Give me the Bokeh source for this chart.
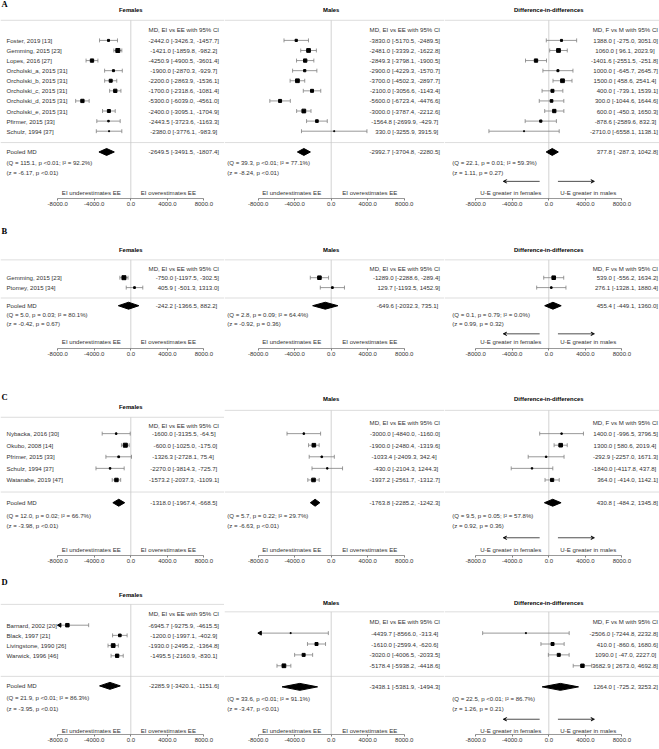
import math
from bokeh.plotting import figure
from bokeh.models import Range1d, FixedTicker, PrintfTickFormatter, ColumnDataSource, Arrow, VeeHead
from bokeh.layouts import column, row
from bokeh.embed import file_html
from bokeh.resources import INLINE
from bokeh.core.properties import value

# ---------------- data ----------------
col_titles = ["Females", "Males", "Difference-in-differences"]
md_headers = ["MD, EI vs EE with 95% CI", "MD, EI vs EE with 95% CI", "MD, F vs M with 95% CI"]
pooled_label = "Pooled MD"
dir_labels = [["EI underestimates EE", "EI overestimates EE"],
              ["EI underestimates EE", "EI overestimates EE"],
              ["U-E greater in females", "U-E greater in males"]]
axis_ticks = [-8000, -4000, 0, 4000, 8000]
panel_letters = ["A", "B", "C", "D"]

A_studies = ["Foster, 2019 [13]", "Gemming, 2015 [23]", "Lopes, 2016 [27]", "Orcholski_a, 2015 [31]",
             "Orcholski_b, 2015 [31]", "Orcholski_c, 2015 [31]", "Orcholski_d, 2015 [31]",
             "Orcholski_e, 2015 [31]", "Pfirmer, 2015 [33]", "Schulz, 1994 [37]"]
A_f_md = [-2442.0, -1421.0, -4250.9, -1900.0, -2200.0, -1700.0, -5300.0, -2400.0, -2443.5, -2380.0]
A_f_lo = [-3426.3, -1859.8, -4900.5, -2870.3, -2863.9, -2318.6, -6039.0, -3095.1, -3723.6, -3776.1]
A_f_hi = [-1457.7, -982.2, -3601.4, -929.7, -1536.1, -1081.4, -4561.0, -1704.9, -1163.3, -983.9]
A_f_wt = [4, 16, 11, 4, 9, 11, 11, 9, 2.3, 1]
A_f_pool = [-2649.5, -3491.5, -1807.4]
A_f_het = "(Q = 115.1, p <0.01; I² = 92.2%)"
A_f_z = "(z = -6.17, p <0.01)"
A_m_md = [-3830.0, -2481.0, -2849.3, -2900.0, -3700.0, -2100.0, -5600.0, -3000.0, -1564.8, 330.0]
A_m_lo = [-5170.5, -3339.2, -3798.1, -4229.3, -4502.3, -3056.6, -6723.4, -3787.4, -2699.9, -3255.9]
A_m_hi = [-2489.5, -1622.8, -1900.5, -1570.7, -2897.7, -1143.4, -4476.6, -2212.6, -429.7, 3915.9]
A_m_wt = [5, 14, 11, 5, 14, 9, 9, 14, 7, 1]
A_m_pool = [-2992.7, -3704.8, -2280.5]
A_m_het = "(Q = 39.3, p <0.01; I² = 77.1%)"
A_m_z = "(z = -8.24, p <0.01)"
A_d_md = [1388.0, 1060.0, -1401.6, 1000.0, 1500.0, 400.0, 300.0, 600.0, -878.6, -2710.0]
A_d_lo = [-275.0, 96.1, -2551.5, -645.7, 458.6, -739.1, -1044.6, -450.3, -2589.6, -6558.1]
A_d_hi = [3051.0, 2023.9, -251.8, 2645.7, 2541.4, 1539.1, 1644.6, 1650.3, 832.3, 1138.1]
A_d_wt = [4, 14, 11, 4, 14, 9, 7, 11, 5, 1]
A_d_pool = [377.8, -287.3, 1042.8]
A_d_het = "(Q = 22.1, p = 0.01; I² = 59.3%)"
A_d_z = "(z = 1.11, p = 0.27)"

B_studies = ["Gemming, 2015 [23]", "Ptomey, 2015 [34]"]
B_f_md = [-750.0, 405.9]
B_f_lo = [-1197.5, -501.3]
B_f_hi = [-302.5, 1313.0]
B_f_wt = [16, 3]
B_f_pool = [-242.2, -1366.5, 882.2]
B_f_het = "(Q = 5.0, p = 0.03; I² = 80.1%)"
B_f_z = "(z = -0.42, p = 0.67)"
B_m_md = [-1289.0, 129.7]
B_m_lo = [-2288.6, -1193.5]
B_m_hi = [-289.4, 1452.9]
B_m_wt = [13, 3]
B_m_pool = [-649.6, -2032.3, 735.1]
B_m_het = "(Q = 2.8, p = 0.09; I² = 64.4%)"
B_m_z = "(z = -0.92, p = 0.36)"
B_d_md = [539.0, 276.1]
B_d_lo = [-556.2, -1328.1]
B_d_hi = [1634.2, 1880.4]
B_d_wt = [13, 2.5]
B_d_pool = [455.4, -449.1, 1360.0]
B_d_het = "(Q = 0.1, p = 0.79; I² = 0.0%)"
B_d_z = "(z = 0.99, p = 0.32)"

C_studies = ["Nybacka, 2016 [30]", "Okubo, 2008 [14]", "Pfrimer, 2015 [33]", "Schulz, 1994 [37]",
             "Watanabe, 2019 [47]"]
C_f_md = [-1600.0, -600.0, -1326.3, -2270.0, -1573.2]
C_f_lo = [-3135.5, -1025.0, -2728.1, -3814.3, -2037.3]
C_f_hi = [-64.5, -175.0, 75.4, -725.7, -1109.1]
C_f_wt = [2.3, 16, 3, 2.3, 12]
C_f_pool = [-1318.0, -1967.4, -668.5]
C_f_het = "(Q = 12.0, p = 0.02; I² = 66.7%)"
C_f_z = "(z = -3.98, p <0.01)"
C_m_md = [-3000.0, -1900.0, -1033.4, -430.0, -1937.2]
C_m_lo = [-4840.0, -2480.4, -2409.3, -2104.3, -2561.7]
C_m_hi = [-1160.0, -1319.6, 342.4, 1244.3, -1312.7]
C_m_wt = [2.3, 13, 2.5, 2, 13]
C_m_pool = [-1763.8, -2285.2, -1242.3]
C_m_het = "(Q = 5.7, p = 0.22; I² = 29.7%)"
C_m_z = "(z = -6.63, p <0.01)"
C_d_md = [1400.0, 1300.0, -292.9, -1840.0, 364.0]
C_d_lo = [-996.5, 580.6, -2257.0, -4117.8, -414.0]
C_d_hi = [3796.5, 2019.4, 1671.3, 437.8, 1142.1]
C_d_wt = [2, 13, 2, 2, 10]
C_d_pool = [430.8, -484.2, 1345.8]
C_d_het = "(Q = 9.5, p = 0.05; I² = 57.8%)"
C_d_z = "(z = 0.92, p = 0.36)"

D_studies = ["Barnard, 2002 [20]", "Black, 1997 [21]", "Livingstone, 1990 [26]", "Warwick, 1996 [46]"]
D_f_md = [-6945.7, -1200.0, -1930.0, -1495.5]
D_f_lo = [-9275.9, -1997.1, -2495.2, -2160.9]
D_f_hi = [-4615.5, -402.9, -1364.8, -830.1]
D_f_wt = [12, 7, 14, 11]
D_f_pool = [-2285.9, -3420.1, -1151.6]
D_f_het = "(Q = 21.9, p <0.01; I² = 86.3%)"
D_f_z = "(z = -3.95, p <0.01)"
D_m_md = [-4439.7, -1610.0, -3020.0, -5178.4]
D_m_lo = [-8566.0, -2599.4, -4006.5, -5938.2]
D_m_hi = [-313.4, -620.6, -2033.5, -4418.6]
D_m_wt = [1, 9, 9, 14]
D_m_pool = [-3438.1, -5381.9, -1494.3]
D_m_het = "(Q = 33.6, p <0.01; I² = 91.1%)"
D_m_z = "(z = -3.47, p <0.01)"
D_d_md = [-2506.0, 410.0, 1090.0, 3682.9]
D_d_lo = [-7244.8, -860.6, -47.0, 2673.0]
D_d_hi = [2232.8, 1680.6, 2227.0, 4692.8]
D_d_wt = [1, 9, 9, 12]
D_d_pool = [1264.0, -725.2, 3253.2]
D_d_het = "(Q = 22.5, p <0.01; I² = 86.7%)"
D_d_z = "(z = 1.26, p = 0.21)"

# ---------------- layout (reference-pixel geometry) ----------------
SX = 1.0           # output px per reference px, horizontal
SY = 0.99          # output px per reference px, vertical
K = 0.00913        # reference px per MD unit
BOT = 13           # fixed output px of the axis strip
FS = 6.1           # text size (px)
TFS = 5.9          # title size
TXT = "#333333"
LINE = "#7f7f7f"
ZERO = "#c8c8c8"
RULE = "#d4d4d4"
FONT = value("Liberation Sans")
ARROW_SIZE = 4.0

COLS = [dict(L=0, R=224, zero=130.3, ci_r=218.5, q_x=6, dl=-10, dr=10),
        dict(L=224, R=444, zero=330.7, ci_r=439.5, q_x=226.7, dl=-10, dr=11),
        dict(L=444, R=659, zero=548.3, ci_r=657.5, q_x=451.7, dl=-7.5, dr=11.5)]
LABEL_X = 6

LAY_A = dict(title=10, hline=20, mdh=29.3, row0=40.3, step=10.19, sep=143.5, pool=153, q=163.7, z=173.3)
LAY_B = dict(title=252.3, hline=262, mdh=271, row0=280, step=10, sep=300.5, pool=308.3, q=317, z=326)
LAY_CF = dict(title=410.7, hline=421, mdh=429.3, row0=437.5, step=11.7, sep=496.5, pool=507.3, q=520, z=530.7)
LAY_CM = dict(title=402.3, hline=414, mdh=426, row0=437.5, step=11.7, sep=496.5, pool=507.3, q=520, z=530.7)
LAY_DF = dict(title=600, hline=610, mdh=619, row0=631, step=10.3, sep=682.7, pool=692.3, q=704, z=715)
LAY_DM = dict(title=608.3, hline=617.5, mdh=627.7, row0=639, step=11, sep=682.7, pool=693.3, q=705, z=715)

PANELS = [
    dict(studies=A_studies, letter_y=3.5, axis=200, dir_y=193.7, arrow_y=182.7,
         cells=[(A_f_md, A_f_lo, A_f_hi, A_f_wt, A_f_pool, A_f_het, A_f_z, LAY_A),
                (A_m_md, A_m_lo, A_m_hi, A_m_wt, A_m_pool, A_m_het, A_m_z, LAY_A),
                (A_d_md, A_d_lo, A_d_hi, A_d_wt, A_d_pool, A_d_het, A_d_z, LAY_A)]),
    dict(studies=B_studies, letter_y=233, axis=351.2, dir_y=344.3, arrow_y=336.7,
         cells=[(B_f_md, B_f_lo, B_f_hi, B_f_wt, B_f_pool, B_f_het, B_f_z, LAY_B),
                (B_m_md, B_m_lo, B_m_hi, B_m_wt, B_m_pool, B_m_het, B_m_z, LAY_B),
                (B_d_md, B_d_lo, B_d_hi, B_d_wt, B_d_pool, B_d_het, B_d_z, LAY_B)]),
    dict(studies=C_studies, letter_y=400, axis=561, dir_y=555, arrow_y=542.7,
         cells=[(C_f_md, C_f_lo, C_f_hi, C_f_wt, C_f_pool, C_f_het, C_f_z, LAY_CF),
                (C_m_md, C_m_lo, C_m_hi, C_m_wt, C_m_pool, C_m_het, C_m_z, LAY_CM),
                (C_d_md, C_d_lo, C_d_hi, C_d_wt, C_d_pool, C_d_het, C_d_z, LAY_CM)]),
    dict(studies=D_studies, letter_y=587, axis=741.7, dir_y=737.3, arrow_y=726,
         cells=[(D_f_md, D_f_lo, D_f_hi, D_f_wt, D_f_pool, D_f_het, D_f_z, LAY_DF),
                (D_m_md, D_m_lo, D_m_hi, D_m_wt, D_m_pool, D_m_het, D_m_z, LAY_DM),
                (D_d_md, D_d_lo, D_d_hi, D_d_wt, D_d_pool, D_d_het, D_d_z, LAY_DM)]),
]


def fmt_ci(md, lo, hi, pool):
    los = [f"{v:.1f}" for v in lo + [pool[1]]]
    his = [f"{v:.1f}" for v in hi + [pool[2]]]
    wl = max(len(s) for s in los)
    wh = max(len(s) for s in his)
    mds = [f"{v:.1f}" for v in md + [pool[0]]]
    return [f"{m} [{a.rjust(wl)}, {b.rjust(wh)}]" for m, a, b in zip(mds, los, his)]


def add_text(p, xs, ys, texts, align="left", color=TXT, size=FS, bold=False, font=FONT):
    src = ColumnDataSource(dict(x=xs, y=ys, t=texts))
    p.text(x="x", y="y", text="t", source=src, text_align=align, text_baseline="middle",
           text_font_size=f"{size:.2f}px", text_color=color, text_font=font,
           text_font_style="bold" if bold else "normal")


def make_cell(pi, ci, panel, top, fh):
    c = COLS[ci]
    md, lo, hi, wt, pool, het, zt, L = panel["cells"][ci]
    X = lambda px: (px - c["zero"]) / K
    fw = round((c["R"] - c["L"]) * SX)
    x0 = X(c["L"])
    x1 = x0 + fw / (SX * K)
    ybot = top + fh / SY
    p = figure(frame_width=fw, frame_height=fh, x_range=Range1d(x0, x1), y_range=Range1d(ybot, top),
               output_backend="svg", toolbar_location=None, min_border=0, min_border_bottom=BOT,
               x_axis_location="below", y_axis_location=None)
    p.xgrid.visible = False
    p.ygrid.visible = False
    p.outline_line_color = None
    p.background_fill_color = "white"
    p.border_fill_color = "white"

    lo_x, hi_x = axis_ticks[0], axis_ticks[-1]
    n = len(md)
    ys = [L["row0"] + i * L["step"] for i in range(n)]

    # rules and zero line
    p.segment(x0=[x0, x0], x1=[x1, x1], y0=[L["hline"], L["sep"]], y1=[L["hline"], L["sep"]],
              line_color=RULE, line_width=0.8)
    p.segment(x0=[0], x1=[0], y0=[L["hline"]], y1=[ybot], line_color=ZERO, line_width=0.8)

    # title, header
    add_text(p, [0], [L["title"]], [col_titles[ci]], align="center", color="black", size=TFS, bold=True)
    add_text(p, [X(c["ci_r"])], [L["mdh"]], [md_headers[ci]], align="right")
    if ci == 0:
        add_text(p, [X(1)], [panel["letter_y"]], [panel_letters[pi]], color="black", size=8.5,
                 bold=True, font=value("Liberation Serif"))
        add_text(p, [X(LABEL_X)] * n, ys, panel["studies"])
        add_text(p, [X(LABEL_X)], [L["pool"]], [pooled_label])

    # CI whiskers (truncated at the axis limits, with an arrowhead)
    clo = [max(v, lo_x) for v in lo]
    chi = [min(v, hi_x) for v in hi]
    p.segment(x0=clo, x1=chi, y0=ys, y1=ys, line_color=LINE, line_width=0.8)
    cap_x, cap_y = [], []
    for v, vc, y in zip(lo + hi, clo + chi, ys + ys):
        if v == vc:
            cap_x.append(v)
            cap_y.append(y)
    p.segment(x0=cap_x, x1=cap_x, y0=[y - 2.0 for y in cap_y], y1=[y + 2.0 for y in cap_y],
              line_color=LINE, line_width=0.8)
    tl = [(vc, y) for v, vc, y in zip(lo, clo, ys) if v != vc]
    if tl:
        p.scatter(x=[t[0] + (ARROW_SIZE / 2) / K for t in tl], y=[t[1] for t in tl], marker="triangle",
                  angle=math.pi / 2, size=ARROW_SIZE, color="black")
    p.scatter(x=md, y=ys, size=[max(1.0, math.sqrt(w)) for w in wt], marker="square", color="black")

    # pooled diamond
    h = 3.5
    p.patches(xs=[[pool[1], pool[0], pool[2], pool[0]]],
              ys=[[L["pool"], L["pool"] - h, L["pool"], L["pool"] + h]], color="black")

    # CI texts
    cis = fmt_ci(md, lo, hi, pool)
    add_text(p, [X(c["ci_r"])] * (n + 1), ys + [L["pool"]], cis, align="right")
    add_text(p, [X(c["q_x"])] * 2, [L["q"], L["z"]], [het, zt])

    # direction labels
    add_text(p, [X(c["zero"] + c["dl"])], [panel["dir_y"]], [dir_labels[ci][0]], align="right")
    add_text(p, [X(c["zero"] + c["dr"])], [panel["dir_y"]], [dir_labels[ci][1]], align="left")
    if ci == 2:
        for xs_, xe_ in ((-1000, -5000), (1000, 5000)):
            p.add_layout(Arrow(end=VeeHead(size=3.5, line_color="black", line_width=0.7, fill_color="black"),
                               x_start=xs_, y_start=panel["arrow_y"], x_end=xe_, y_end=panel["arrow_y"],
                               line_color="black", line_width=0.7))

    ax = p.xaxis[0]
    ax.ticker = FixedTicker(ticks=axis_ticks)
    ax.bounds = (lo_x, hi_x)
    ax.formatter = PrintfTickFormatter(format="%.1f")
    ax.major_tick_in = 0
    ax.major_tick_out = 2
    ax.minor_tick_in = 0
    ax.minor_tick_out = 0
    ax.major_label_standoff = 1
    ax.major_label_text_font_size = "6px"
    ax.major_label_text_font = "Liberation Sans"
    ax.major_label_text_color = TXT
    ax.axis_line_color = LINE
    ax.major_tick_line_color = LINE
    ax.axis_line_width = 0.8
    return p


rows = []
top = 0.0
for pi, panel in enumerate(PANELS):
    fh = round((panel["axis"] - top) * SY)
    rows.append(row(*[make_cell(pi, ci, panel, top, fh) for ci in range(3)]))
    top = top + (fh + BOT) / SY

layout = column(*rows)
open("out.html", "w").write(file_html(layout, INLINE))
